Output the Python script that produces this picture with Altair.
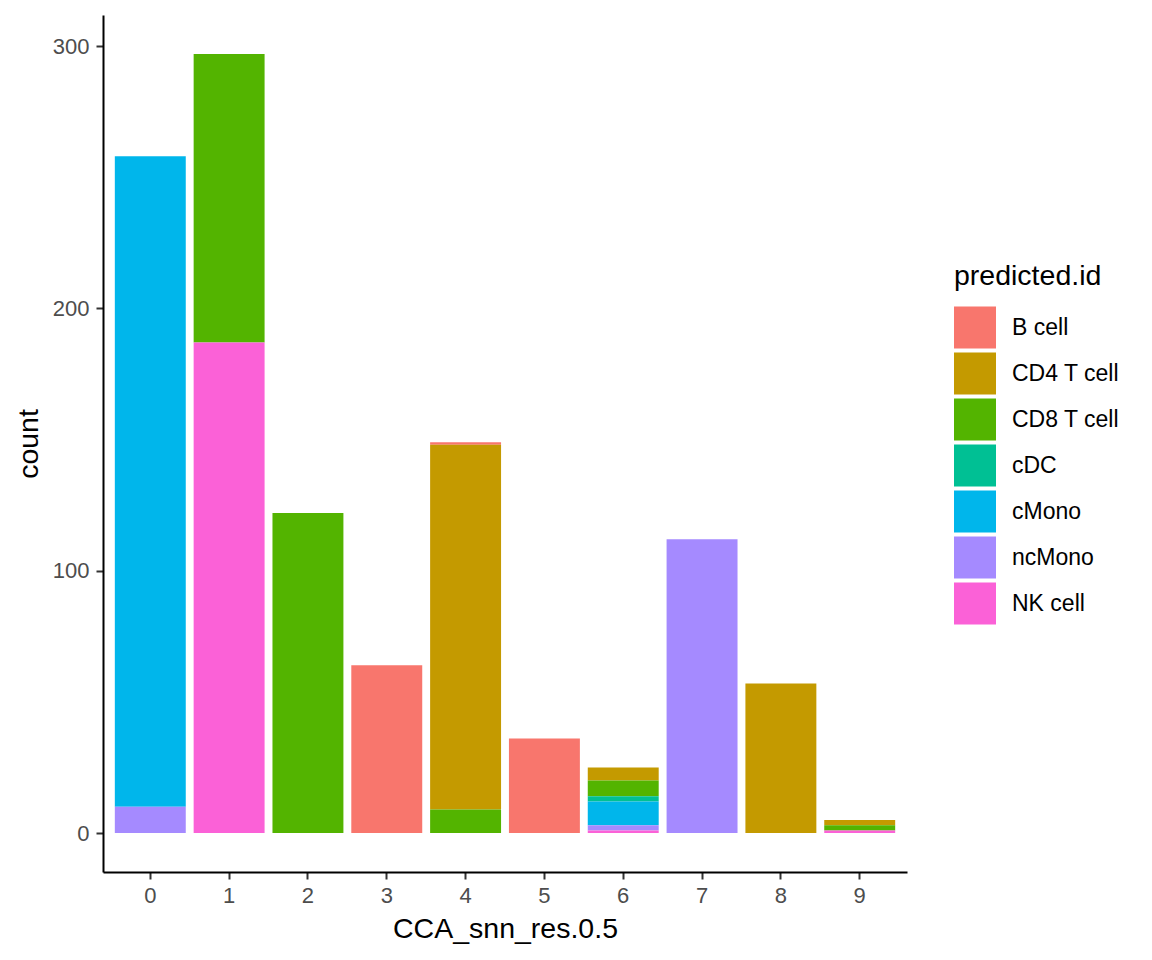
import altair as alt
import pandas as pd

clusters = ["0", "1", "2", "3", "4", "5", "6", "7", "8", "9"]
cell_types = ["B cell", "CD4 T cell", "CD8 T cell", "cDC", "cMono", "ncMono", "NK cell"]
colors = ["#F8766D", "#C49A00", "#53B400", "#00C094", "#00B6EB", "#A58AFF", "#FB61D7"]

# counts per cluster, in cell_types order
counts = {
    "0": [0, 0, 0, 0, 248, 10, 0],
    "1": [0, 0, 110, 0, 0, 0, 187],
    "2": [0, 0, 122, 0, 0, 0, 0],
    "3": [64, 0, 0, 0, 0, 0, 0],
    "4": [1, 139, 9, 0, 0, 0, 0],
    "5": [36, 0, 0, 0, 0, 0, 0],
    "6": [0, 5, 6, 2, 9, 2, 1],
    "7": [0, 0, 0, 0, 0, 112, 0],
    "8": [0, 57, 0, 0, 0, 0, 0],
    "9": [0, 2, 2, 0, 0, 0, 1],
}

rows = []
for c in clusters:
    for i, t in enumerate(cell_types):
        v = counts[c][i]
        if v > 0:
            rows.append({"cluster": c, "type": t, "count": v, "idx": i})
df = pd.DataFrame(rows)

FONT = "Liberation Sans"
LABEL = 22
LEGEND_LABEL = 23
TITLE = 28.5

chart = alt.Chart(df).mark_bar().encode(
    x=alt.X("cluster:N", sort=clusters, title="CCA_snn_res.0.5",
            scale=alt.Scale(paddingInner=0.1, paddingOuter=0.15),
            axis=alt.Axis(labelAngle=0, labelFontSize=LABEL, labelColor="#4D4D4D",
                          titleFontSize=TITLE, titleColor="#000000", titleFontWeight="normal",
                          tickSize=7, tickColor="#333333", tickWidth=2,
                          domainColor="#000000", domainWidth=2,
                          labelPadding=6, titlePadding=8,
                          labelFont=FONT, titleFont=FONT)),
    y=alt.Y("count:Q", stack="zero", title="count",
            scale=alt.Scale(domain=[-14.85, 311.85], nice=False, zero=False),
            axis=alt.Axis(values=[0, 100, 200, 300], labelFontSize=LABEL, labelColor="#4D4D4D",
                          titleFontSize=TITLE, titleColor="#000000", titleFontWeight="normal",
                          tickSize=7, tickColor="#333333", tickWidth=2,
                          domainColor="#000000", domainWidth=2, grid=False,
                          labelPadding=7, titlePadding=9,
                          labelFont=FONT, titleFont=FONT)),
    color=alt.Color("type:N", sort=cell_types, title="predicted.id",
                    scale=alt.Scale(domain=cell_types, range=colors),
                    legend=alt.Legend(orient="none", legendX=851, legendY=247,
                                      symbolType="square", symbolSize=1764,
                                      symbolStrokeWidth=0, symbolOpacity=1,
                                      labelFontSize=LEGEND_LABEL, titleFontSize=TITLE,
                                      titleFontWeight="normal", titleColor="#000000",
                                      labelColor="#000000", rowPadding=4,
                                      titlePadding=16, labelOffset=16,
                                      labelFont=FONT, titleFont=FONT)),
    order=alt.Order("idx:Q", sort="descending"),
).properties(
    width=804, height=857,
    autosize=alt.AutoSizeParams(type="none"),
    padding={"left": 95, "top": 7, "right": 225, "bottom": 73},
).configure_view(stroke=None)

chart.save("out.html", embed_options={"renderer": "svg", "actions": False})
